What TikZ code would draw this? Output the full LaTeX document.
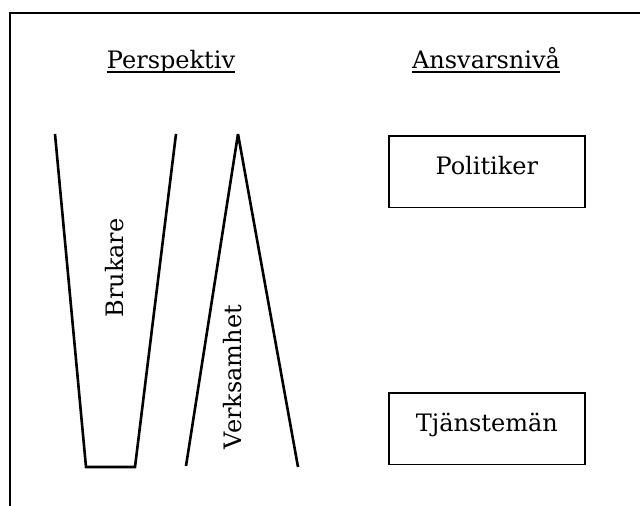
\documentclass[tikz,border=0pt]{standalone}
\usepackage{fontspec}
\setmainfont{DejaVu Serif}
\usepackage{tikz}

\begin{document}
\begin{tikzpicture}[x=1pt, y=-1pt, font=\fontsize{24}{28}\selectfont,
  heading/.style={inner sep=0pt, anchor=base},
  side/.style={line width=2.6pt, line join=miter},
  levelbox/.style={draw, line width=1.7pt, anchor=north west, inner sep=0pt,
    minimum width=196pt, text height=38.5pt, text depth=33pt}]
  \useasboundingbox (0,0) rectangle (640,506);
  % outer frame, cut by the page
  \draw[line width=2pt] (9.5,506) -- (9.5,13) -- (640,13);

  \node[heading] (persp) at (171,68) {Perspektiv};
  \node[heading] (ansvar) at (486,68) {Ansvarsnivå};
  \draw[line width=1.5pt] ([yshift=-4pt]persp.base west) -- ([yshift=-4pt]persp.base east);
  \draw[line width=1.5pt] ([yshift=-4pt]ansvar.base west) -- ([yshift=-4pt]ansvar.base east);

  % Brukare: open trapezoid
  \draw[side] (55,134) -- (86,467) -- (135,467) -- (176,134);
  \node[rotate=90] (brukare) at (115,268) {Brukare};

  % Verksamhet: open triangle
  \draw[side, line join=bevel] (186,466) -- (238,134) -- (298,467);
  \node[rotate=90] (verksamhet) at (233,377) {Verksamhet};

  \node[levelbox] (politiker) at (388,135) {Politiker};
  \node[levelbox] (tjanstemen) at (388,392) {Tjänstemän};
\end{tikzpicture}
\end{document}
